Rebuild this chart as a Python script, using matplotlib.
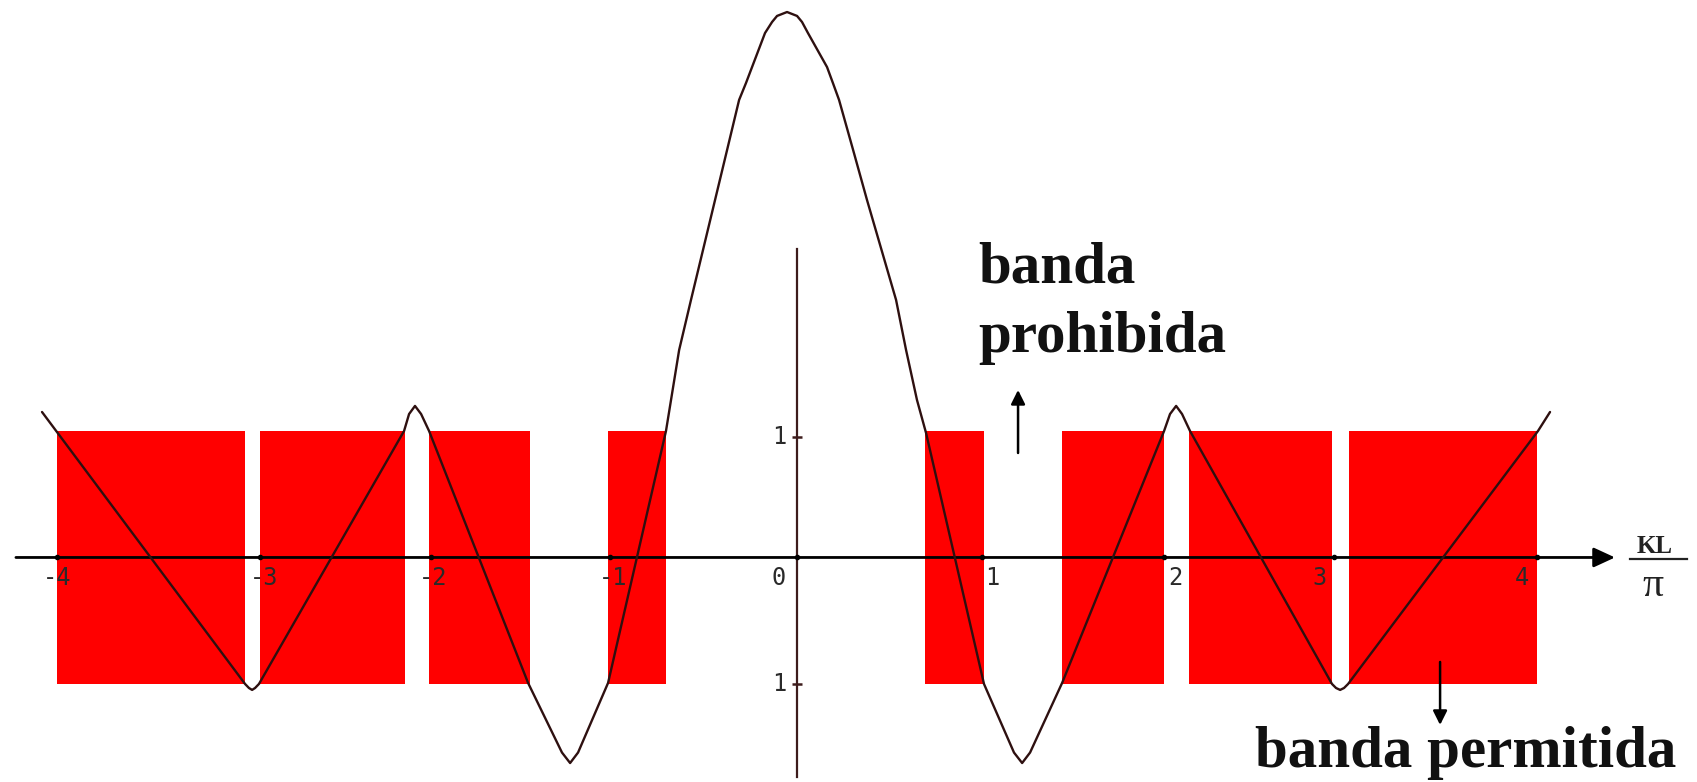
import numpy as np
import matplotlib.pyplot as plt

# allowed bands (KL/pi intervals where |f| <= 1)
band_lo = np.array([-4.0, -2.9, -1.99, -1.02, 0.69, 1.43, 2.12, 2.98])
band_hi = np.array([-2.98, -2.12, -1.44, -0.71, 1.01, 1.98, 2.89, 4.0])

# f(KL/pi) read point by point
curve_x = [-4.079, -2.982, -2.961, -2.944, -2.928, -2.907, -2.123, -2.096, -2.064,
           -2.031, -1.988, -1.453, -1.270, -1.226, -1.183, -1.021, -0.708, -0.637,
           -0.573, -0.443, -0.378, -0.313, -0.276, -0.243, -0.173, -0.135, -0.108,
           -0.054, 0.000, 0.027, 0.059, 0.162, 0.194, 0.227, 0.303, 0.378, 0.535,
           0.589, 0.648, 0.697, 1.010, 1.172, 1.216, 1.259, 1.432, 1.983, 2.015,
           2.048, 2.080, 2.123, 2.890, 2.912, 2.934, 2.955, 2.977, 4.003, 4.068]
curve_y = [1.150, -1.000, -1.032, -1.047, -1.032, -1.000, 1.000, 1.134, 1.198,
           1.134, 1.000, -0.992, -1.542, -1.625, -1.542, -0.992, 1.000, 1.640,
           2.036, 2.826, 3.221, 3.617, 3.750, 3.877, 4.146, 4.233, 4.281,
           4.312, 4.281, 4.233, 4.146, 3.877, 3.750, 3.617, 3.221, 2.826, 2.036,
           1.640, 1.245, 0.984, -1.000, -1.542, -1.625, -1.542, -0.992, 1.000, 1.134,
           1.198, 1.134, 1.000, -1.000, -1.032, -1.047, -1.032, -1.000, 1.000, 1.150]

xticks = [-4.0, -2.9, -1.98, -1.01, 0.0, 1.0, 1.98, 2.9, 4.0]
xtick_labels = ['-4', '-3', '-2', '-1', '0', '1', '2', '3', '4']
xlabel_shift = [0, 3, 1.5, 2, -13, 7, 8.5, -10, -11.5]  # points

yticks = [0.95, -1.0]
ytick_labels = ['1', '1']

fig = plt.figure(figsize=(16.97, 7.82), dpi=100)
ax = fig.add_axes([0, 0, 1, 1])
ax.set_xlim(-4.306, 4.862)
ax.set_ylim(-1.775, 4.407)
ax.axis('off')

ax.bar(band_lo, 2, width=band_hi - band_lo, bottom=-1, align='edge',
       color='#ff0000', linewidth=0, zorder=1)

# axes
ax.annotate('', xy=(4.419, 0), xytext=(-4.22, 0),
            arrowprops=dict(arrowstyle='-|>,head_length=1.3,head_width=0.6',
                            mutation_scale=10, lw=2, color='black',
                            shrinkA=0, shrinkB=0), zorder=3)
ax.plot([0, 0], [-1.735, 2.439], color='#3d1c1c', lw=1.6, zorder=3)

ax.plot(xticks, np.zeros(len(xticks)), 'o', ms=3, color='black', zorder=4)
for x, lab, dx in zip(xticks, xtick_labels, xlabel_shift):
    ax.annotate(lab, (x, 0), xytext=(dx, -15), textcoords='offset points',
                ha='center', va='center', fontsize=17, color='#2a2a2a',
                family='DejaVu Sans Mono')
ax.plot(np.zeros(len(yticks)), yticks, '_', ms=7, mew=1.8, color='#3d1c1c', zorder=4)
for y, lab in zip(yticks, ytick_labels):
    ax.annotate(lab, (0, y), xytext=(-13, 0), textcoords='offset points',
                ha='center', va='center', fontsize=17, color='#2a2a2a',
                family='DejaVu Sans Mono')

ax.plot(curve_x, curve_y, color='#2e1010', lw=1.7, solid_joinstyle='round',
        solid_capstyle='round', zorder=5)

# axis label KL / pi
ax.text(4.635, 0.085, 'KL', ha='center', va='center', fontsize=18,
        family='Liberation Serif', fontweight='bold', color='#222222')
ax.plot([4.50, 4.81], [-0.012, -0.012], color='#222222', lw=1.6)
ax.text(4.625, -0.225, 'π', ha='center', va='center', fontsize=30,
        family='Liberation Serif', color='#222222')

# band annotations
txt = dict(family='Liberation Serif', fontweight='bold', fontsize=42.5,
           color='#111111', va='baseline', ha='left')
ax.text(0.978, 2.170, 'banda', **txt)
ax.text(0.978, 1.625, 'prohibida', **txt)
ax.text(2.474, -1.656, 'banda permitida', **txt)

ax.annotate('', xy=(1.194, 1.324), xytext=(1.194, 0.826),
            arrowprops=dict(arrowstyle='-|>,head_length=0.7,head_width=0.35',
                            mutation_scale=12, lw=1.8, color='black',
                            shrinkA=0, shrinkB=0))
ax.annotate('', xy=(3.474, -1.324), xytext=(3.474, -0.826),
            arrowprops=dict(arrowstyle='-|>,head_length=0.7,head_width=0.35',
                            mutation_scale=12, lw=1.8, color='black',
                            shrinkA=0, shrinkB=0))

fig.savefig('out.png', dpi=100)
